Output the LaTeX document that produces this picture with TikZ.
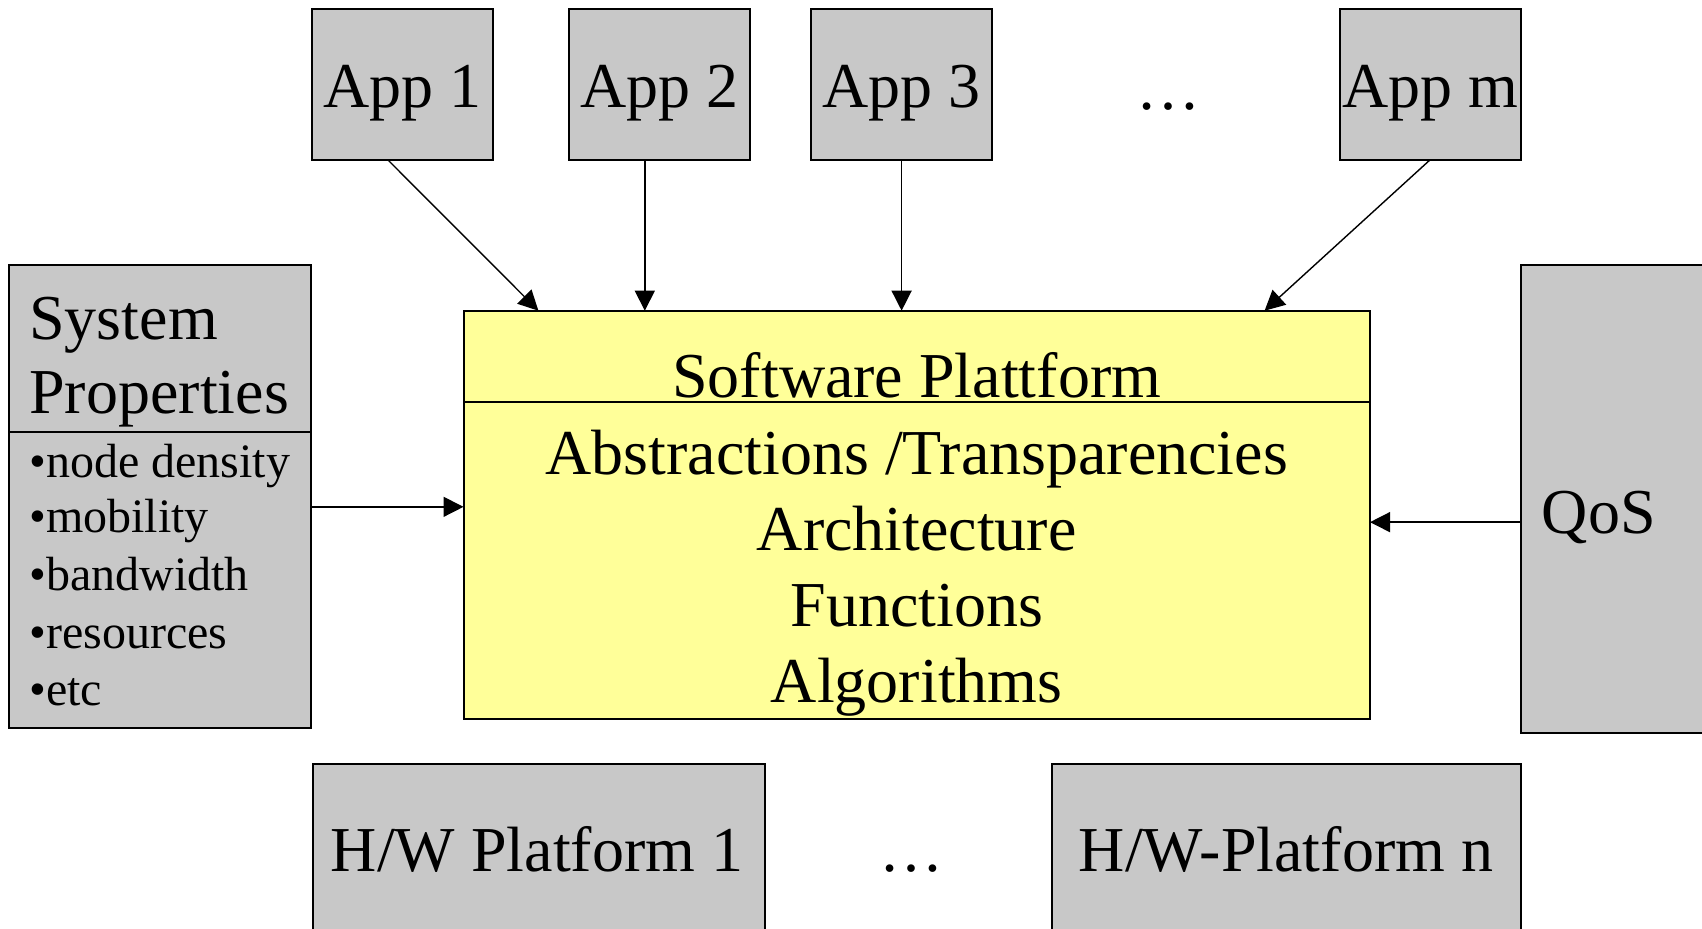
\documentclass[tikz,border=0pt]{standalone}
\usepackage{fontspec}
\setmainfont{Liberation Serif}
\usetikzlibrary{arrows.meta}
\definecolor{boxgray}{RGB}{200,200,200}
\definecolor{swyellow}{RGB}{255,255,153}
\begin{document}
\begin{tikzpicture}[x=0.5pt,y=-0.5pt,
  graybox/.style={draw=black, line width=1pt, fill=boxgray, inner sep=0pt, outer sep=0pt},
  ybox/.style={draw=black, line width=1pt, fill=swyellow, inner sep=0pt, outer sep=0pt},
  big/.style={font=\fontsize{32}{38}\selectfont, inner sep=0pt},
  small/.style={font=\fontsize{24}{29}\selectfont, inner sep=0pt},
  arr/.style={line width=0.7pt, -{Triangle[length=10pt,width=10pt]}}]
\fill[white] (0,0) rectangle (1702,929);
\useasboundingbox (0,0) rectangle (1702,929);
% top application boxes
\node[graybox, minimum width=90.5pt, minimum height=75.5pt] (app1) at (402.7,84.2) {};
\node[graybox, minimum width=90.5pt, minimum height=75.5pt] (app2) at (659.5,84.2) {};
\node[graybox, minimum width=90.5pt, minimum height=75.5pt] (app3) at (901.6,84.2) {};
\node[graybox, minimum width=90.5pt, minimum height=75.5pt] (appm) at (1430.2,84.2) {};
\node[big, anchor=base] (t1) at (402.7,108) {App 1};
\node[big, anchor=base] (t2) at (659.5,108) {App 2};
\node[big, anchor=base] (t3) at (901.6,108) {App 3};
\node[big, anchor=base] (tm) at (1430.2,108) {App m};
\node[big, anchor=base] (dtop) at (1168,110) {…};
% system properties
\node[graybox, minimum width=150.9pt, minimum height=231.7pt] (sys) at (159.6,496.65) {};
\coordinate (sysdiv) at (0,431.7);
\draw[line width=1pt] (sys.west |- sysdiv) -- (sys.east |- sysdiv);
\node[big, anchor=base west] (sy1) at (29,339.3) {System};
\node[big, anchor=base west] (sy2) at (29,414) {Properties};
\node[small, anchor=base west] (l1) at (29,477.5) {•node density};
\node[small, anchor=base west] (l2) at (29,533) {•mobility};
\node[small, anchor=base west] (l3) at (29,590.5) {•bandwidth};
\node[small, anchor=base west] (l4) at (29,648.3) {•resources};
\node[small, anchor=base west] (l5) at (29,705.3) {•etc};
% software platform
\node[ybox, minimum width=453.25pt, minimum height=204.05pt] (sw) at (916.75,514.75) {};
\coordinate (swdiv) at (0,401.7);
\draw[line width=1pt] (sw.west |- swdiv) -- (sw.east |- swdiv);
\node[big, anchor=base] (s0) at (916.75,397.3) {Software Plattform};
\node[big, anchor=base] (s1) at (916.75,474.4) {Abstractions /Transparencies};
\node[big, anchor=base] (s2) at (916.75,550.3) {Architecture};
\node[big, anchor=base] (s3) at (916.75,626.3) {Functions};
\node[big, anchor=base] (s4) at (916.75,702.3) {Algorithms};
% QoS
\node[graybox, minimum width=99.6pt, minimum height=234.15pt] (qos) at (1620.4,499.15) {};
\node[big, anchor=base west] (qt) at (1541.4,533.3) {QoS};
% hardware platforms
\node[graybox, minimum width=226.35pt, minimum height=98.25pt] (hw1) at (538.95,861.75) {};
\node[graybox, minimum width=234.45pt, minimum height=98.25pt] (hwn) at (1286.35,861.75) {};
\node[big, anchor=base] (h1) at (537,871) {H/W Platform 1};
\node[big, anchor=base] (hn) at (1286,871) {H/W-Platform n};
\node[big, anchor=base] (dbot) at (911.8,871) {…};
% connectors
\draw[arr] ([xshift=-7.5pt]app1.south) -- ([xshift=37.45pt]sw.north west);
\draw[arr] ([xshift=-7.35pt]app2.south) -- ([xshift=-7.35pt]app2.south |- sw.north);
\draw[arr] (app3.south) -- (app3.south |- sw.north);
\draw[arr] (appm.south) -- ([xshift=-52.7pt]sw.north east);
\draw[arr] ([yshift=-5.1pt]sys.east) -- ([yshift=-5.1pt]sys.east -| sw.west);
\draw[arr] ([yshift=-11.5pt]qos.west) -- ([yshift=-11.5pt]qos.west -| sw.east);
\end{tikzpicture}
\end{document}
